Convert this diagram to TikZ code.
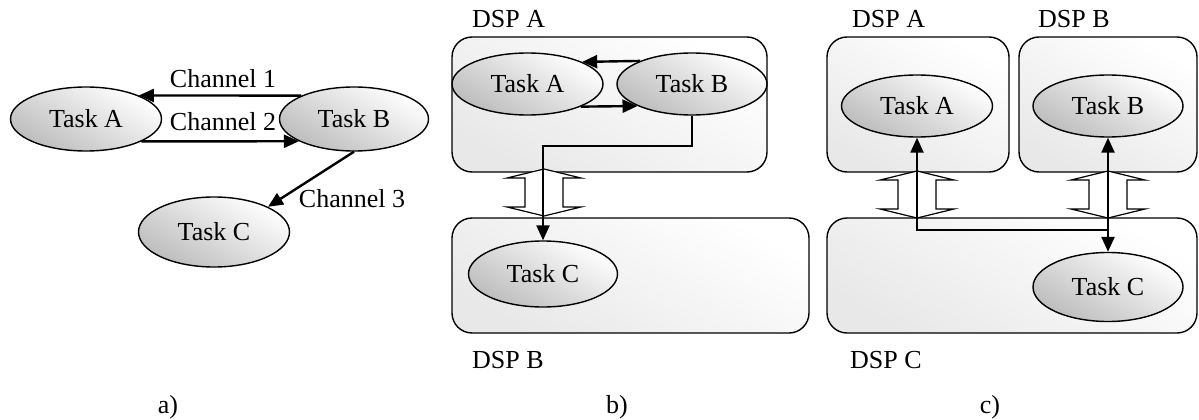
\documentclass[tikz,border=0pt]{standalone}
\usepackage{fontspec}
\setmainfont{Liberation Serif}
\usetikzlibrary{shapes.geometric,arrows.meta}
\begin{document}
\begin{tikzpicture}[x=1pt,y=-1pt,
  task/.style={ellipse,draw,line width=1.4pt,inner sep=0pt,
    top color=white,bottom color=black!26,shading angle=-30,
    font=\fontsize{26}{30}\selectfont},
  dspbox/.style={draw,line width=1.4pt,rounded corners=20pt,
    top color=white,bottom color=black!9,shading angle=-30},
  lbl/.style={inner sep=0pt,font=\fontsize{26}{30}\selectfont},
  conn/.style={line width=2.4pt},
  >={Triangle[length=15pt,width=13pt]},
  bus/.pic={\draw[line width=1.2pt,fill=white,line join=miter]
     (0,-24) -- (-37,-15) -- (-19,-15) -- (-19,14) -- (-37,14) -- (0,23)
     -- (37,14) -- (19,14) -- (19,-15) -- (37,-15) -- cycle;}]
\useasboundingbox (0,0) rectangle (1199,420);

% ---------- a) ----------
\node[task,minimum width=151pt,minimum height=64pt] (tA) at (86,119) {Task A};
\node[task,minimum width=149pt,minimum height=64pt] (tB) at (354,119) {Task B};
\node[task,minimum width=151pt,minimum height=70pt] (tC) at (214,232) {Task C};
\draw[conn,->] (tB.156) -- (tA.24);
\draw[conn,->] (tA.-22) -- (tB.202);
\draw[conn,->] (tB.south) -- (tC.25);
\node[lbl,anchor=base] (l1) at (223,87) {Channel 1};
\node[lbl,anchor=base] (l2) at (223,130) {Channel 2};
\node[lbl,anchor=base] (l3) at (352,207) {Channel 3};
\node[lbl,anchor=base] (la) at (168,413) {a)};

% ---------- b) ----------
\node[dspbox,minimum width=315pt,minimum height=135pt] (bDA) at (609.5,104.5) {};
\node[dspbox,minimum width=357pt,minimum height=115pt] (bDB) at (630.5,275.5) {};
\pic at (544,193) {bus};
\node[task,minimum width=151pt,minimum height=62pt] (bA) at (527.5,84) {Task A};
\node[task,minimum width=150pt,minimum height=62pt] (bB) at (692,84) {Task B};
\node[task,minimum width=149pt,minimum height=66pt] (bC) at (543,274) {Task C};
\coordinate (bbend) at (0,146);
\draw[conn,->] (bB.156) -- (bA.22);
\draw[conn,->] (bA.-23) -- (bB.202);
\draw[conn,->] (bB.south) -- (bB.south |- bbend) -| (bC.north);
\node[lbl,anchor=base west] (bla) at (472,28) {DSP A};
\node[lbl,anchor=base west] (blb) at (472,368) {DSP B};
\node[lbl,anchor=base] (lb) at (617,413) {b)};

% ---------- c) ----------
\node[dspbox,minimum width=182pt,minimum height=135pt] (cDA) at (918,104.5) {};
\node[dspbox,minimum width=178pt,minimum height=135pt] (cDB) at (1108,104.5) {};
\node[dspbox,minimum width=370pt,minimum height=115pt] (cDC) at (1012,275.5) {};
\pic at (917,195) {bus};
\pic at (1108,195) {bus};
\node[task,minimum width=151pt,minimum height=62pt] (cA) at (917,106) {Task A};
\node[task,minimum width=150pt,minimum height=62pt] (cB) at (1108,106) {Task B};
\node[task,minimum width=150pt,minimum height=69pt] (cC) at (1108,287) {Task C};
\coordinate (cbend) at (0,230);
\draw[conn,<->] (cB.south) -- (cC.north);
\draw[conn,->] (cC.north |- cbend) -| (cA.south);
\node[lbl,anchor=base west] (cla) at (852,28) {DSP A};
\node[lbl,anchor=base west] (clb) at (1038,28) {DSP B};
\node[lbl,anchor=base west] (clc) at (850,368) {DSP C};
\node[lbl,anchor=base] (lc) at (990,413) {c)};
\end{tikzpicture}
\end{document}
